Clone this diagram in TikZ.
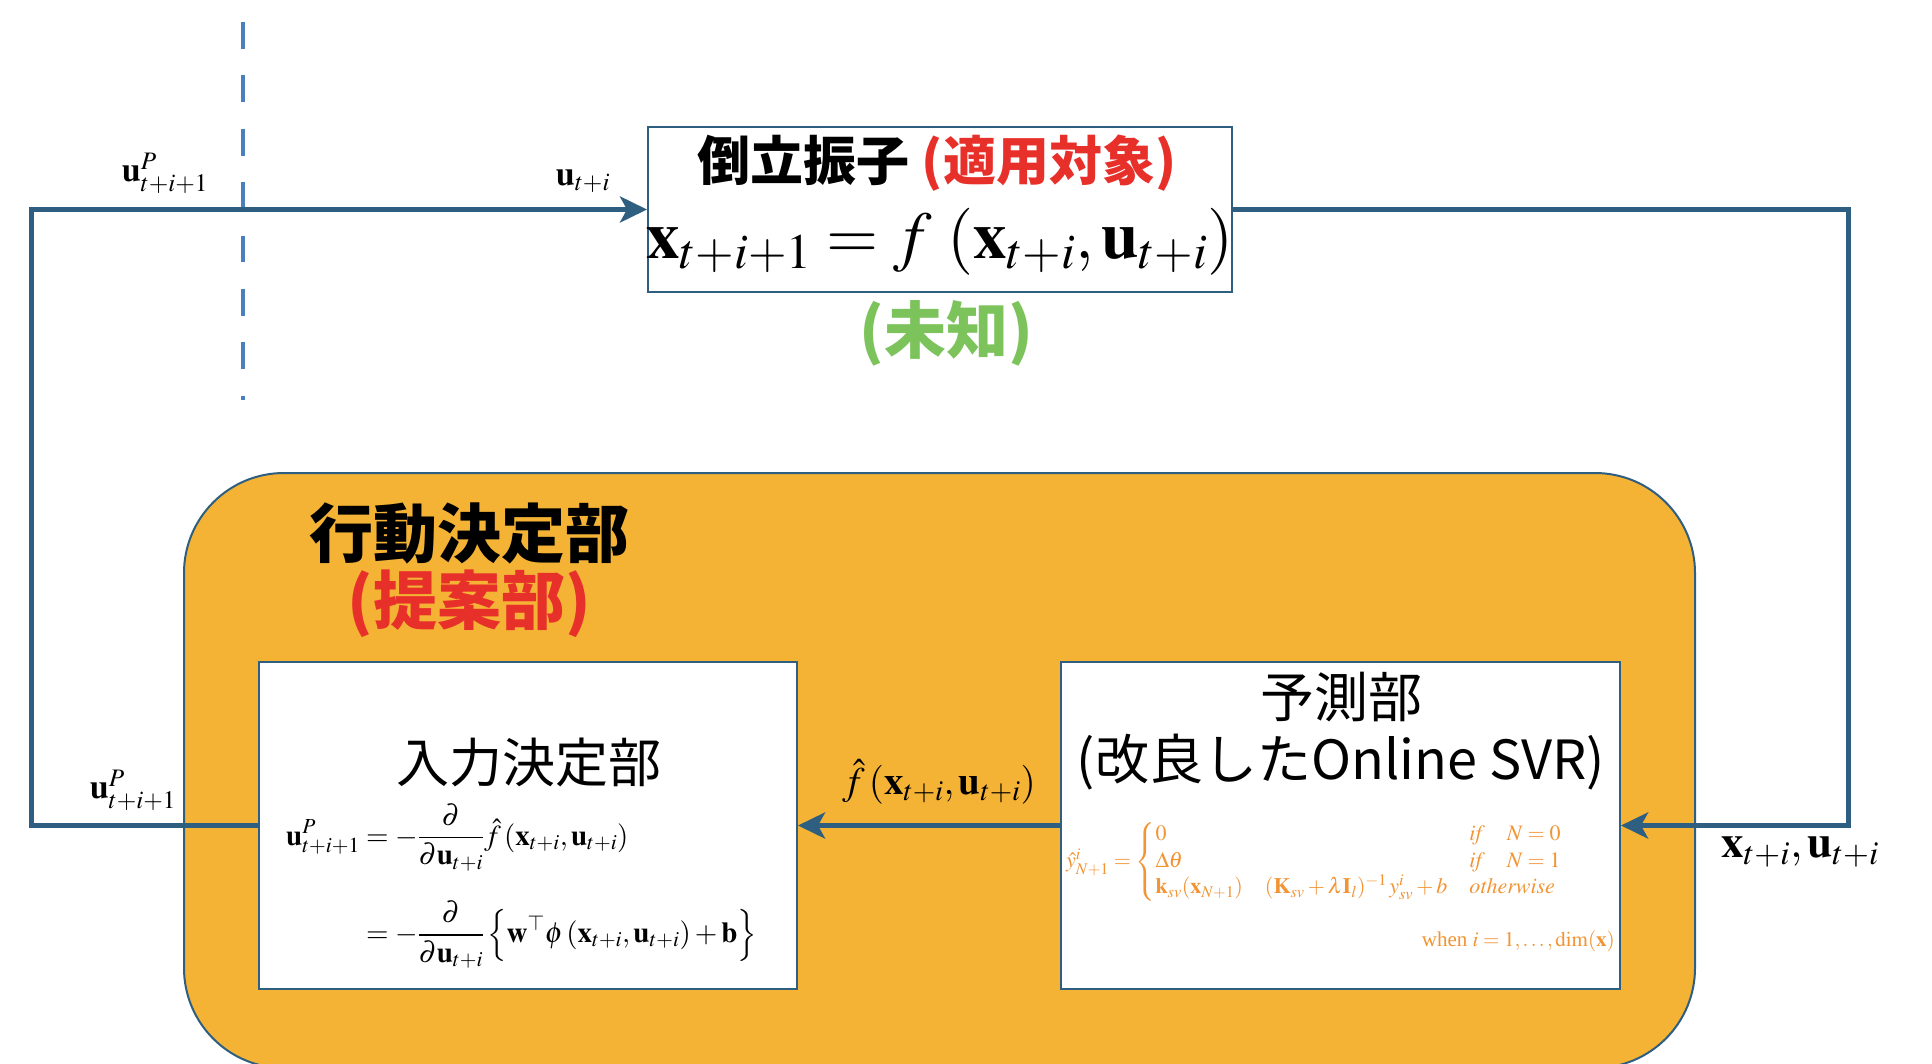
\documentclass[tikz,border=0pt]{standalone}
\usepackage{amsmath}
\usepackage{mathptmx}
\usepackage[no-math]{fontspec}
\setmainfont{Liberation Serif}
\newfontfamily\cjk{Noto Sans CJK JP}
\usetikzlibrary{arrows.meta}
\definecolor{lineblue}{RGB}{46,94,128}
\definecolor{dashblue}{RGB}{74,128,190}
\definecolor{orfill}{RGB}{244,179,53}
\definecolor{jred}{RGB}{232,48,42}
\definecolor{jgreen}{RGB}{125,195,91}
\definecolor{eqorange}{RGB}{242,148,51}
\begin{document}
\begin{tikzpicture}[x=1pt,y=-1pt,
  conn/.style={draw=lineblue, line width=5pt},
  arr/.style={conn, -{Stealth[length=27pt,width=26pt,inset=7pt]}},
  boxstyle/.style={draw=lineblue, line width=2pt, fill=white, inner sep=0pt},
  lbl/.style={inner sep=0pt, text=black},
  jpbold/.style={lbl, font={\cjk\bfseries\fontsize{#1}{#1}\selectfont}},
  jpreg/.style={lbl, font={\cjk\fontsize{#1}{#1}\selectfont}},
  mathlbl/.style={lbl, font={\fontsize{#1}{#1}\selectfont}},
]
\useasboundingbox (0,0) rectangle (1932,1063);
\fill[white] (0,0) rectangle (1932,1063);

% group
\node[draw=lineblue, line width=2pt, fill=orfill, rounded corners=100pt,
      minimum width=1511, minimum height=595, inner sep=0pt] (group) at (939.5,770.5) {};

% dashed divider
\coordinate (dtop) at (243,22);
\coordinate (dbot) at (243,400);
\draw[dashblue, line width=4pt, dash pattern=on 26.7pt off 26.7pt] (dtop) -- (dbot);

% boxes
\node[boxstyle, minimum width=584, minimum height=165] (plant) at (940,209.5) {};
\node[boxstyle, minimum width=538, minimum height=327] (inbox) at (528,825.5) {};
\node[boxstyle, minimum width=559, minimum height=327] (pred) at (1340.5,825.5) {};

% connectors
\coordinate (lft) at (31,0);
\coordinate (rgt) at (1848,0);
\draw[arr] (inbox.west) -- (inbox.west -| lft) -- (lft |- plant.west) -- (plant.west);
\draw[arr] (plant.east) -- (plant.east -| rgt) -- (rgt |- pred.east) -- (pred.east);
\draw[arr] (pred.west) -- (inbox.east);

% plant texts
\node[jpbold=53] (plantname) at (937,163) {倒立振子 \textcolor{jred}{(適用対象)}};
\node[mathlbl=67] (planteq) at (940,242) {$\mathbf{x}_{t+i+1} = f\,\left(\mathbf{x}_{t+i}, \mathbf{u}_{t+i}\right)$};
\node[jpbold=62, text=jgreen] (unknown) at (946,333) {(未知)};

% group title
\node[jpbold=64] (actname) at (469,533) {行動決定部};
\node[jpbold=64, text=jred] (proposal) at (469,604) {(提案部)};

% input box
\node[jpreg=53] (inname) at (529,762) {入力決定部};
\node[mathlbl=29, anchor=west] (ineq) at (286,886) {$\displaystyle\begin{aligned}
\mathbf{u}^{P}_{t+i+1} &= -\frac{\partial}{\partial \mathbf{u}_{t+i}}\hat{f}\left(\mathbf{x}_{t+i},\mathbf{u}_{t+i}\right)\\[26pt]
&= -\frac{\partial}{\partial \mathbf{u}_{t+i}}\left\{\mathbf{w}^{\top}\phi\left(\mathbf{x}_{t+i},\mathbf{u}_{t+i}\right)+\mathbf{b}\right\}
\end{aligned}$};

% predict box
\node[jpreg=54] (predname) at (1341,697) {予測部};
\node[jpreg=54] (predsub) at (1341,762) {(改良したOnline SVR)};
\node[mathlbl=22, anchor=west, text=eqorange] (predeq) at (1066,862) {$\hat{y}^{i}_{N+1} = \begin{cases}
0 & \mathit{if}\quad N=0\\
\Delta\theta & \mathit{if}\quad N=1\\
\mathbf{k}_{sv}(\mathbf{x}_{N+1})\quad(\mathbf{K}_{sv}+\lambda\mathbf{I}_{l})^{-1}\,y^{i}_{sv}+b & \mathit{otherwise}
\end{cases}$};
\node[mathlbl=21, anchor=east, text=eqorange] (when) at (1615,941) {when $i=1,\ldots,\dim(\mathbf{x})$};

% connector labels
\node[mathlbl=34] (uPtop) at (165,173) {$\mathbf{u}^{P}_{t+i+1}$};
\node[mathlbl=34] (ut) at (583,181) {$\mathbf{u}_{t+i}$};
\node[mathlbl=34] (uPbot) at (133,790) {$\mathbf{u}^{P}_{t+i+1}$};
\node[mathlbl=45] (xu) at (1800,852) {$\mathbf{x}_{t+i},\mathbf{u}_{t+i}$};
\node[mathlbl=39] (fhat) at (939,782) {$\hat{f}\left(\mathbf{x}_{t+i},\mathbf{u}_{t+i}\right)$};
\end{tikzpicture}
\end{document}
